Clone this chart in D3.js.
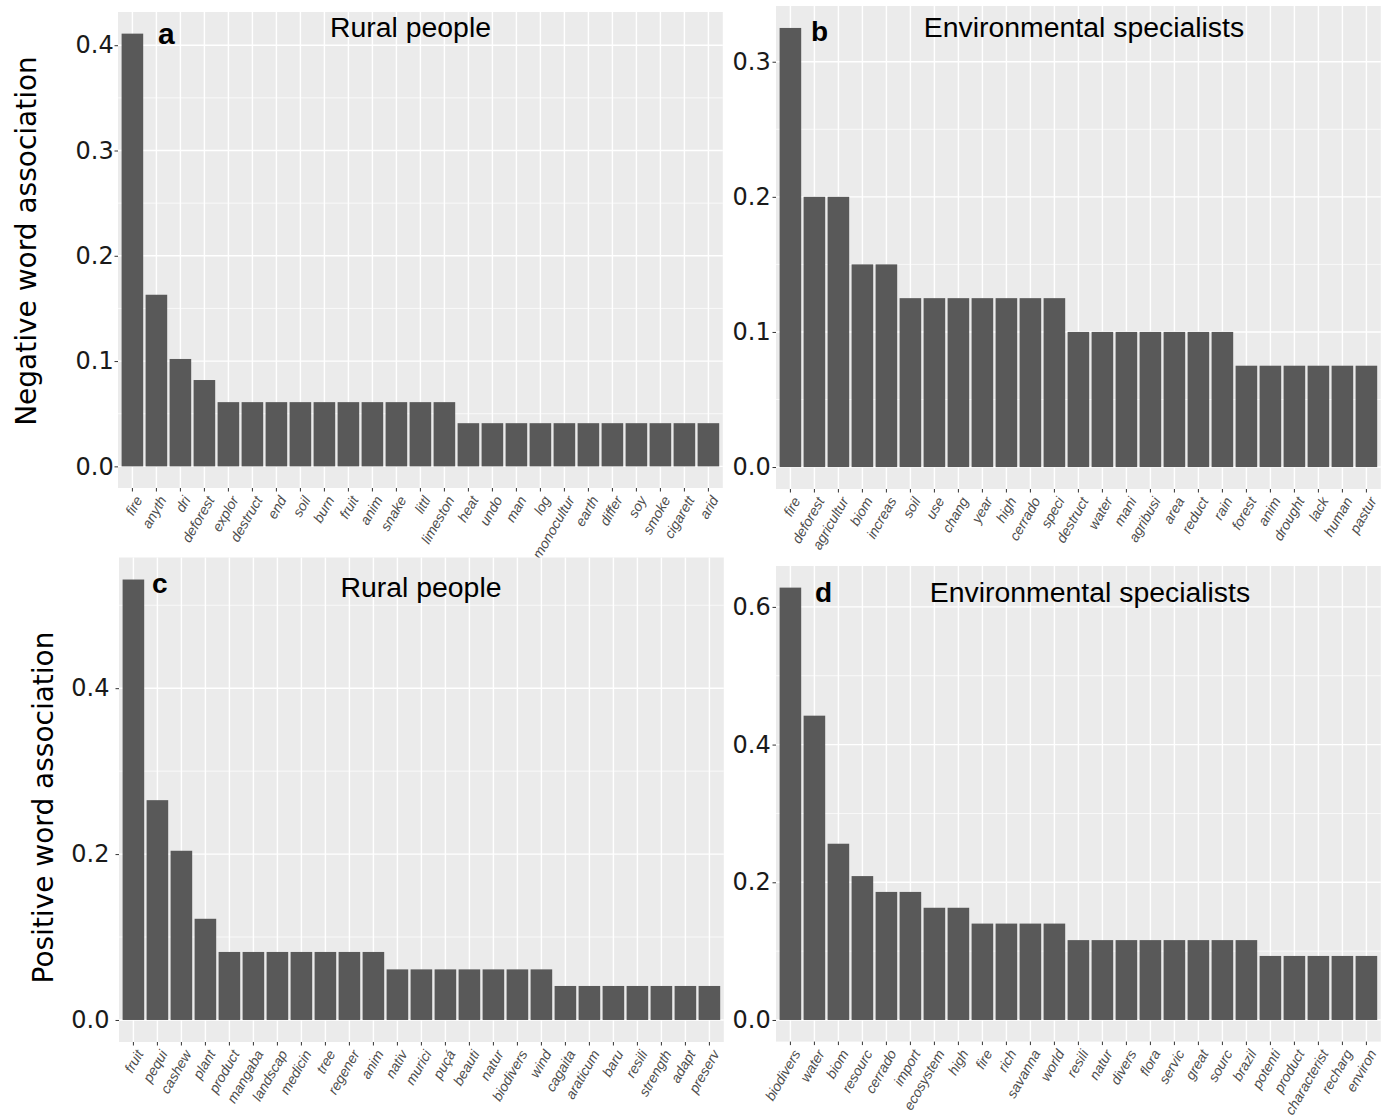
<!DOCTYPE html>
<html>
<head>
<meta charset="utf-8">
<script src="https://cdn.jsdelivr.net/npm/d3@7"></script>
<style>
  body { margin: 0; background: #fff; }
</style>
</head>
<body>
<svg id="chart" width="1393" height="1117"></svg>
<script>
// panel a: rural people, negative
const wordsA = ["fire", "anyth", "dri", "deforest", "explor", "destruct", "end", "soil", "burn", "fruit",
    "anim", "snake", "littl", "limeston", "heat", "undo", "man", "log", "monocultur", "earth",
    "differ", "soy", "smoke", "cigarett", "arid"];
const valuesA = [0.411, 0.163, 0.102, 0.082, 0.061, 0.061, 0.061, 0.061, 0.061, 0.061,
    0.061, 0.061, 0.061, 0.061, 0.041, 0.041, 0.041, 0.041, 0.041, 0.041,
    0.041, 0.041, 0.041, 0.041, 0.041];
const ticksA = [0, 0.1, 0.2, 0.3, 0.4];

// panel b: environmental specialists, negative
const wordsB = ["fire", "deforest", "agricultur", "biom", "increas", "soil", "use", "chang", "year", "high",
    "cerrado", "speci", "destruct", "water", "mani", "agribusi", "area", "reduct", "rain", "forest",
    "anim", "drought", "lack", "human", "pastur"];
const valuesB = [0.325, 0.2, 0.2, 0.15, 0.15, 0.125, 0.125, 0.125, 0.125, 0.125,
    0.125, 0.125, 0.1, 0.1, 0.1, 0.1, 0.1, 0.1, 0.1, 0.075,
    0.075, 0.075, 0.075, 0.075, 0.075];
const ticksB = [0, 0.1, 0.2, 0.3];

// panel c: rural people, positive
const wordsC = ["fruit", "pequi", "cashew", "plant", "product", "mangaba", "landscap", "medicin", "tree", "regener",
    "anim", "nativ", "murici", "puçá", "beauti", "natur", "biodivers", "wind", "cagaita", "araticum",
    "baru", "resili", "strength", "adapt", "preserv"];
const valuesC = [0.531, 0.265, 0.204, 0.122, 0.082, 0.082, 0.082, 0.082, 0.082, 0.082,
    0.082, 0.061, 0.061, 0.061, 0.061, 0.061, 0.061, 0.061, 0.041, 0.041,
    0.041, 0.041, 0.041, 0.041, 0.041];
const ticksC = [0, 0.2, 0.4];

// panel d: environmental specialists, positive
const wordsD = ["biodivers", "water", "biom", "resourc", "cerrado", "import", "ecosystem", "high", "fire", "rich",
    "savanna", "world", "resili", "natur", "divers", "flora", "servic", "great", "sourc", "brazil",
    "potenti", "product", "characterist", "recharg", "environ"];
const valuesD = [0.628, 0.442, 0.256, 0.209, 0.186, 0.186, 0.163, 0.163, 0.140, 0.140,
    0.140, 0.140, 0.116, 0.116, 0.116, 0.116, 0.116, 0.116, 0.116, 0.116,
    0.093, 0.093, 0.093, 0.093, 0.093];
const ticksD = [0, 0.2, 0.4, 0.6];

const panels = [
    {words: wordsA, values: valuesA, ticks: ticksA, tag: "a", title: "Rural people",
     left: 118, top: 12, bottom: 488, tickGap: 0.8, titleX: 410.5, titleY: 36.5, tagX: 158, tagY: 44, tagSize: 30},
    {words: wordsB, values: valuesB, ticks: ticksB, tag: "b", title: "Environmental specialists",
     left: 776, top: 6, bottom: 489, tickGap: 1.8, titleX: 1084, titleY: 36.7, tagX: 811, tagY: 40.5, tagSize: 28},
    {words: wordsC, values: valuesC, ticks: ticksC, tag: "c", title: "Rural people",
     left: 119, top: 557.5, bottom: 1042, tickGap: 6, titleX: 421, titleY: 597, tagX: 152, tagY: 593, tagSize: 28},
    {words: wordsD, values: valuesD, ticks: ticksD, tag: "d", title: "Environmental specialists",
     left: 776, top: 566, bottom: 1041.6, tickGap: 1.8, titleX: 1090, titleY: 602, tagX: 815, tagY: 601.7, tagSize: 28}
];

const svg = d3.select("#chart");
const step = 24;

function drawPanel(p) {
    const n = p.words.length;
    const width = step * (n + 0.2);
    const ymax = d3.max(p.values);

    const x = d3.scaleBand()
        .domain(p.words)
        .range([p.left, p.left + width])
        .paddingInner(0.1)
        .paddingOuter(0.15);

    const y = d3.scaleLinear()
        .domain([-ymax * 0.05, ymax * 1.05])
        .range([p.bottom, p.top]);

    const g = svg.append("g");

    g.append("rect")
        .attr("x", p.left)
        .attr("y", p.top)
        .attr("width", width)
        .attr("height", p.bottom - p.top)
        .attr("fill", "#ebebeb");

    // minor gridlines halfway between ticks
    const half = (p.ticks[1] - p.ticks[0]) / 2;
    const minor = p.ticks.map(t => t + half).filter(t => t < y.domain()[1]);
    g.selectAll(".minor")
        .data(minor)
        .join("line")
        .attr("x1", p.left)
        .attr("x2", p.left + width)
        .attr("y1", d => y(d))
        .attr("y2", d => y(d))
        .attr("stroke", "#fff")
        .attr("stroke-width", 0.7);

    g.selectAll(".major")
        .data(p.ticks)
        .join("line")
        .attr("x1", p.left)
        .attr("x2", p.left + width)
        .attr("y1", d => y(d))
        .attr("y2", d => y(d))
        .attr("stroke", "#fff")
        .attr("stroke-width", 1.4);

    g.selectAll(".vgrid")
        .data(p.words)
        .join("line")
        .attr("x1", d => x(d) + x.bandwidth() / 2)
        .attr("x2", d => x(d) + x.bandwidth() / 2)
        .attr("y1", p.top)
        .attr("y2", p.bottom)
        .attr("stroke", "#fff")
        .attr("stroke-width", 1.4);

    g.selectAll(".bar")
        .data(p.values)
        .join("rect")
        .attr("x", (d, i) => x(p.words[i]))
        .attr("y", d => y(d))
        .attr("width", x.bandwidth())
        .attr("height", d => y(0) - y(d))
        .attr("fill", "#595959");

    // y axis
    const yAxis = g.append("g")
        .attr("transform", `translate(${p.left},0)`)
        .call(d3.axisLeft(y).tickValues(p.ticks).tickFormat(d3.format(".1f")).tickSize(3.5).tickPadding(p.tickGap));
    yAxis.select(".domain").remove();
    yAxis.selectAll(".tick line").attr("stroke", "#333").attr("stroke-width", 1);
    yAxis.selectAll(".tick text")
        .attr("font-family", "DejaVu Sans")
        .attr("font-size", 24)
        .attr("fill", "#1a1a1a");

    // x axis
    const xAxis = g.append("g")
        .attr("transform", `translate(0,${p.bottom})`)
        .call(d3.axisBottom(x).tickSize(3.5).tickFormat(""));
    xAxis.select(".domain").remove();
    xAxis.selectAll(".tick line").attr("stroke", "#333").attr("stroke-width", 1);

    g.selectAll(".xlab")
        .data(p.words)
        .join("text")
        .attr("transform", d => `translate(${x(d) + x.bandwidth() / 2 + 1.5},${p.bottom + 6.5}) rotate(-60)`)
        .attr("dy", "0.75em")
        .attr("text-anchor", "end")
        .attr("font-family", "Liberation Sans")
        .attr("font-style", "italic")
        .attr("font-size", 14)
        .attr("fill", "#4d4d4d")
        .text(d => d);

    g.append("text")
        .attr("x", p.titleX)
        .attr("y", p.titleY)
        .attr("text-anchor", "middle")
        .attr("font-family", "Liberation Sans")
        .attr("font-size", 28.4)
        .attr("fill", "#000")
        .text(p.title);

    g.append("text")
        .attr("x", p.tagX)
        .attr("y", p.tagY)
        .attr("font-family", "Liberation Sans")
        .attr("font-weight", "bold")
        .attr("font-size", p.tagSize)
        .attr("fill", "#000")
        .text(p.tag);
}

panels.forEach(drawPanel);

// row titles
svg.append("text")
    .attr("transform", "translate(36,241) rotate(-90)")
    .attr("text-anchor", "middle")
    .attr("font-family", "DejaVu Sans")
    .attr("font-size", 28)
    .text("Negative word association");

svg.append("text")
    .attr("transform", "translate(53,807.5) rotate(-90)")
    .attr("text-anchor", "middle")
    .attr("font-family", "DejaVu Sans")
    .attr("font-size", 28)
    .text("Positive word association");
</script>
</body>
</html>
